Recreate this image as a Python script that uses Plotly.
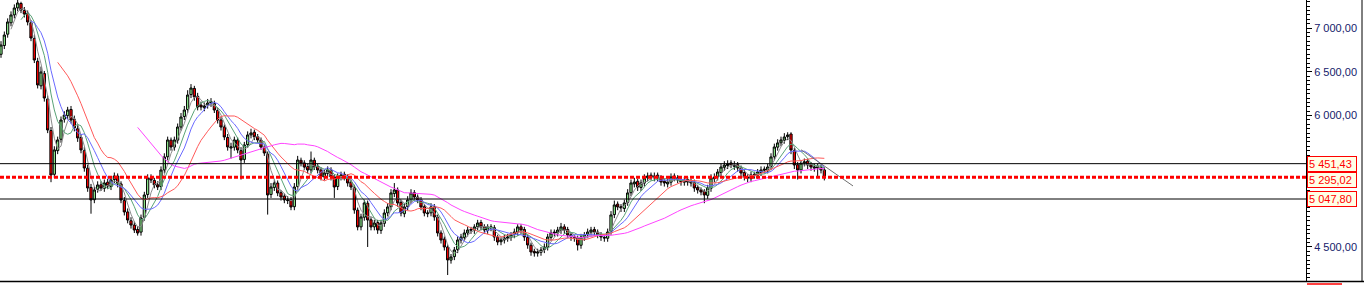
import numpy as np
import pandas as pd
import plotly.graph_objects as go

# ---------------- data ----------------
OPEN = [6700, 6800, 6930, 7060, 7150, 7230, 7280, 7200, 7170, 7060,
        6880, 6620, 6340, 6480, 6190, 5830, 5330, 5600, 5730, 5960,
        6000, 6070, 5960, 5850, 5750, 5600, 5400, 5180, 5040, 5160,
        5210, 5170, 5240, 5190, 5270, 5310, 5220, 5030, 4900, 4800,
        4750, 4700, 4670, 4840, 5100, 5290, 5260, 5210, 5190, 5380,
        5530, 5720, 5640, 5720, 5870, 5990, 6070, 6240, 6310, 6220,
        6120, 6090, 6120, 6160, 6140, 6060, 5950, 5870, 5750, 5630,
        5640, 5720, 5600, 5500, 5670, 5780, 5810, 5760, 5720, 5640,
        5560, 5100, 5180, 5230, 5120, 5080, 5030, 5040, 4960, 5190,
        5490, 5460, 5420, 5380, 5490, 5420, 5380, 5300, 5340, 5380,
        5300, 5190, 5300, 5330, 5300, 5240, 5180, 4920, 4730, 4840,
        5000, 4810, 4730, 4780, 4690, 4770, 4890, 4960, 5110, 5150,
        5010, 4880, 4960, 5040, 5120, 5070, 5040, 4960, 4880, 4890,
        4960, 4840, 4660, 4590, 4500, 4350, 4390, 4470, 4580, 4610,
        4660, 4700, 4690, 4730, 4780, 4730, 4690, 4730, 4720, 4610,
        4560, 4580, 4600, 4610, 4640, 4670, 4730, 4700, 4610, 4520,
        4450, 4430, 4440, 4470, 4500, 4610, 4670, 4660, 4690, 4730,
        4700, 4640, 4610, 4600, 4520, 4610, 4640, 4670, 4700, 4670,
        4640, 4610, 4600, 4680, 4870, 4990, 4960, 4940, 5010, 5120,
        5220, 5250, 5180, 5230, 5290, 5320, 5290, 5320, 5290, 5250,
        5220, 5240, 5310, 5290, 5270, 5240, 5270, 5250, 5240, 5180,
        5150, 5130, 5090, 5170, 5280, 5300, 5350, 5410, 5430, 5460,
        5420, 5440, 5400, 5350, 5300, 5280, 5330, 5320, 5350, 5390,
        5380, 5420, 5530, 5640, 5690, 5720, 5760, 5790, 5600, 5440,
        5380, 5460, 5480, 5440, 5400, 5420, 5410, 5380]

HIGH = [6850, 6960, 7110, 7190, 7270, 7320, 7300, 7240, 7200, 7090,
        6920, 6660, 6560, 6510, 6230, 5870, 5650, 5760, 5990, 6050,
        6100, 6110, 6000, 5890, 5790, 5640, 5440, 5220, 5190, 5250,
        5250, 5270, 5280, 5300, 5350, 5340, 5250, 5070, 4940, 4840,
        4790, 4740, 4870, 5130, 5330, 5330, 5290, 5250, 5420, 5570,
        5760, 5750, 5760, 5910, 6030, 6110, 6290, 6360, 6340, 6260,
        6160, 6150, 6190, 6200, 6170, 6090, 5990, 5900, 5790, 5690,
        5760, 5750, 5640, 5700, 5820, 5850, 5840, 5790, 5750, 5670,
        5590, 5230, 5270, 5260, 5150, 5110, 5080, 5070, 5230, 5540,
        5520, 5490, 5450, 5590, 5520, 5450, 5410, 5380, 5420, 5410,
        5330, 5340, 5360, 5360, 5330, 5270, 5210, 4950, 4880, 5040,
        5030, 4840, 4810, 4810, 4810, 4930, 5000, 5160, 5230, 5180,
        5040, 5000, 5080, 5160, 5150, 5100, 5070, 4990, 4920, 5000,
        4990, 4870, 4690, 4620, 4530, 4420, 4500, 4620, 4650, 4700,
        4730, 4730, 4760, 4810, 4810, 4760, 4760, 4760, 4750, 4640,
        4610, 4640, 4650, 4670, 4710, 4760, 4760, 4730, 4640, 4550,
        4480, 4480, 4500, 4540, 4650, 4700, 4700, 4730, 4775, 4760,
        4730, 4670, 4640, 4630, 4650, 4670, 4710, 4730, 4730, 4700,
        4670, 4640, 4710, 4910, 5030, 5020, 4990, 5040, 5160, 5270,
        5290, 5280, 5270, 5330, 5350, 5350, 5350, 5350, 5320, 5280,
        5280, 5340, 5340, 5320, 5300, 5300, 5300, 5280, 5270, 5210,
        5180, 5160, 5210, 5330, 5340, 5390, 5450, 5480, 5490, 5490,
        5480, 5470, 5430, 5380, 5330, 5360, 5360, 5390, 5420, 5420,
        5450, 5570, 5680, 5730, 5760, 5800, 5810, 5810, 5630, 5470,
        5490, 5510, 5510, 5470, 5450, 5450, 5440, 5410]

LOW = [6660, 6760, 6890, 7020, 7110, 7190, 7170, 7120, 7030, 6850,
       6600, 6310, 6300, 6160, 5800, 5240, 5290, 5560, 5690, 5920,
       5960, 5910, 5820, 5700, 5570, 5360, 5130, 4880, 5000, 5120,
       5140, 5130, 5160, 5150, 5230, 5180, 5000, 4860, 4770, 4710,
       4660, 4630, 4630, 4800, 5060, 5230, 5170, 5150, 5150, 5340,
       5490, 5600, 5600, 5680, 5830, 5950, 6030, 6200, 6170, 6060,
       6060, 6050, 6080, 6100, 6030, 5910, 5830, 5720, 5600, 5510,
       5600, 5570, 5270, 5460, 5630, 5740, 5720, 5690, 5610, 5540,
       4870, 5060, 5140, 5080, 5030, 5000, 4990, 4920, 4920, 5150,
       5420, 5380, 5340, 5340, 5380, 5340, 5260, 5260, 5300, 5260,
       5060, 5150, 5260, 5260, 5190, 5150, 4880, 4690, 4690, 4800,
       4500, 4690, 4690, 4650, 4650, 4730, 4850, 4920, 5070, 4960,
       4850, 4840, 4920, 5000, 5030, 5000, 4920, 4850, 4840, 4850,
       4800, 4620, 4540, 4460, 4180, 4310, 4350, 4430, 4540, 4570,
       4620, 4650, 4650, 4690, 4690, 4650, 4650, 4680, 4570, 4520,
       4520, 4540, 4560, 4570, 4600, 4630, 4650, 4570, 4480, 4400,
       4390, 4390, 4400, 4430, 4460, 4570, 4620, 4620, 4650, 4650,
       4600, 4570, 4560, 4460, 4480, 4570, 4600, 4630, 4630, 4600,
       4570, 4560, 4560, 4640, 4830, 4920, 4900, 4900, 4970, 5080,
       5180, 5140, 5140, 5190, 5250, 5260, 5250, 5250, 5200, 5190,
       5180, 5200, 5250, 5230, 5200, 5200, 5200, 5190, 5130, 5110,
       5090, 5000, 5050, 5130, 5240, 5260, 5310, 5370, 5390, 5400,
       5380, 5360, 5300, 5260, 5240, 5240, 5280, 5280, 5310, 5340,
       5340, 5380, 5490, 5600, 5650, 5680, 5720, 5560, 5390, 5270,
       5340, 5420, 5390, 5370, 5360, 5290, 5340, 5260]

CLOSE = [6806, 6920, 7069, 7149, 7229, 7286, 7206, 7160, 7069, 6886,
         6635, 6350, 6498, 6201, 5836, 5322, 5608, 5722, 5950, 6007,
         6064, 5950, 5859, 5745, 5608, 5402, 5174, 5037, 5151, 5208,
         5174, 5231, 5197, 5265, 5311, 5219, 5037, 4900, 4808, 4751,
         4694, 4660, 4831, 5094, 5288, 5265, 5208, 5185, 5379, 5528,
         5722, 5642, 5722, 5870, 5984, 6064, 6235, 6315, 6213, 6099,
         6099, 6110, 6144, 6144, 6064, 5950, 5870, 5756, 5642, 5642,
         5722, 5608, 5493, 5665, 5779, 5802, 5756, 5722, 5642, 5573,
         5094, 5185, 5231, 5117, 5071, 5037, 5037, 4957, 5185, 5493,
         5459, 5413, 5379, 5493, 5413, 5379, 5299, 5345, 5379, 5299,
         5185, 5299, 5322, 5299, 5231, 5185, 4923, 4729, 4843, 5003,
         4808, 4729, 4774, 4694, 4774, 4888, 4957, 5117, 5151, 5003,
         4888, 4957, 5037, 5117, 5071, 5037, 4957, 4888, 4888, 4957,
         4843, 4660, 4580, 4500, 4352, 4386, 4466, 4580, 4614, 4660,
         4694, 4694, 4729, 4774, 4729, 4694, 4729, 4717, 4614, 4557,
         4580, 4603, 4614, 4637, 4671, 4729, 4694, 4614, 4523, 4443,
         4432, 4443, 4466, 4500, 4614, 4660, 4660, 4694, 4729, 4694,
         4637, 4614, 4603, 4523, 4614, 4637, 4671, 4694, 4671, 4637,
         4614, 4603, 4671, 4866, 4980, 4957, 4945, 5003, 5117, 5231,
         5242, 5185, 5231, 5288, 5311, 5299, 5311, 5288, 5242, 5231,
         5242, 5299, 5288, 5265, 5242, 5265, 5242, 5231, 5174, 5151,
         5128, 5094, 5174, 5288, 5299, 5356, 5413, 5436, 5448, 5436,
         5436, 5402, 5345, 5299, 5288, 5322, 5322, 5356, 5379, 5379,
         5413, 5528, 5642, 5688, 5722, 5756, 5779, 5608, 5436, 5379,
         5459, 5471, 5436, 5413, 5413, 5402, 5379, 5295]

# moving-average periods (bars) and colours
MA_PERIODS = [4, 7, 10, 18, 42]
MA_COLORS = ["#8c8c8c", "#5aa377", "#6a6aff", "#ff5a5a", "#ff44ff"]

# horizontal levels
LEVELS = [5451.43, 5295.02, 5047.80]
LEVEL_LABELS = ["5 451,43", "5 295,02", "5 047,80"]

# trend line (bar index, value)
TREND_X = [240, 255.6]
TREND_Y = [5610, 5197]

TICK_VALS = [4500, 6000, 6500, 7000]

# ---------------- figure ----------------
W, H = 1364, 285
AX_X = 1306          # pixel position of the price axis
PLOT_BOTTOM = 281.5  # pixel position of the plot bottom

x = np.arange(len(CLOSE))
close_s = pd.Series(CLOSE, dtype=float)

fig = go.Figure()

fig.add_trace(go.Candlestick(
    x=x, open=OPEN, high=HIGH, low=LOW, close=CLOSE,
    increasing=dict(line=dict(color="black", width=1), fillcolor="#90ee90"),
    decreasing=dict(line=dict(color="black", width=1), fillcolor="#ff0000"),
    whiskerwidth=0, hoverinfo="skip", showlegend=False,
))

for p, c in zip(MA_PERIODS, MA_COLORS):
    ma = close_s.rolling(p).mean()
    fig.add_trace(go.Scatter(
        x=x, y=ma, mode="lines", line=dict(color=c, width=1),
        hoverinfo="skip", showlegend=False,
    ))

fig.add_trace(go.Scatter(
    x=TREND_X, y=TREND_Y, mode="lines", line=dict(color="#707070", width=1),
    hoverinfo="skip", showlegend=False,
))

x_dom = AX_X / W
y_dom0 = 1 - PLOT_BOTTOM / H

shapes = []
# level lines
shapes.append(dict(type="line", xref="paper", x0=0, x1=x_dom, yref="y",
                   y0=LEVELS[0], y1=LEVELS[0], line=dict(color="black", width=1)))
shapes.append(dict(type="line", xref="paper", x0=0, x1=x_dom, yref="y",
                   y0=LEVELS[2], y1=LEVELS[2], line=dict(color="black", width=1)))
shapes.append(dict(type="line", xref="paper", x0=0, x1=x_dom, yref="y",
                   y0=LEVELS[1], y1=LEVELS[1],
                   line=dict(color="#ff0000", width=3, dash="4px,2px")))
# frame lines
shapes.append(dict(type="line", xref="paper", yref="paper", x0=0, x1=1,
                   y0=y_dom0, y1=y_dom0, line=dict(color="black", width=1.5)))
shapes.append(dict(type="line", xref="paper", yref="paper", x0=1362 / W, x1=1362 / W,
                   y0=y_dom0, y1=1, line=dict(color="black", width=1)))
shapes.append(dict(type="line", xref="paper", yref="paper", x0=1307 / W, x1=1342 / W,
                   y0=1 - 284 / H, y1=1 - 284 / H, line=dict(color="#ff0000", width=1.5)))

annotations = []
shifts = [0, -3, 0]
for lv, lab, sh in zip(LEVELS, LEVEL_LABELS, shifts):
    annotations.append(dict(
        xref="paper", x=(AX_X + 1) / W, xanchor="left",
        yref="y", y=lv, yanchor="middle", yshift=sh,
        text=lab, showarrow=False,
        font=dict(family="Liberation Sans, Arial, sans-serif", size=11, color="#ff0000"),
        bgcolor="#ffffe6", bordercolor="#ff0000", borderwidth=1, borderpad=1,
        width=46, align="left",
    ))

fig.update_layout(
    width=W, height=H,
    margin=dict(l=0, r=0, t=0, b=0),
    paper_bgcolor="white", plot_bgcolor="white",
    separators=", ",
    boxgap=0.05,
    shapes=shapes, annotations=annotations,
    showlegend=False,
    xaxis=dict(domain=[0, x_dom], range=[-0.3, 391.5], visible=False,
               rangeslider=dict(visible=False), fixedrange=True),
    yaxis=dict(domain=[y_dom0, 1], range=[4106, 7320], side="right",
               showline=True, linecolor="black", linewidth=1,
               showgrid=False, zeroline=False,
               ticks="outside", ticklen=5, tickcolor="black", tickwidth=1,
               tickmode="array", tickvals=TICK_VALS, tickformat=",.2f",
               tickfont=dict(family="Liberation Sans, Arial, sans-serif", size=11,
                             color="#14206b"),
               minor=dict(ticks="outside", ticklen=3, tickcolor="black",
                          tickmode="linear", tick0=0, dtick=50, showgrid=False),
               automargin=False, fixedrange=True),
)

fig.write_html("out.html")
